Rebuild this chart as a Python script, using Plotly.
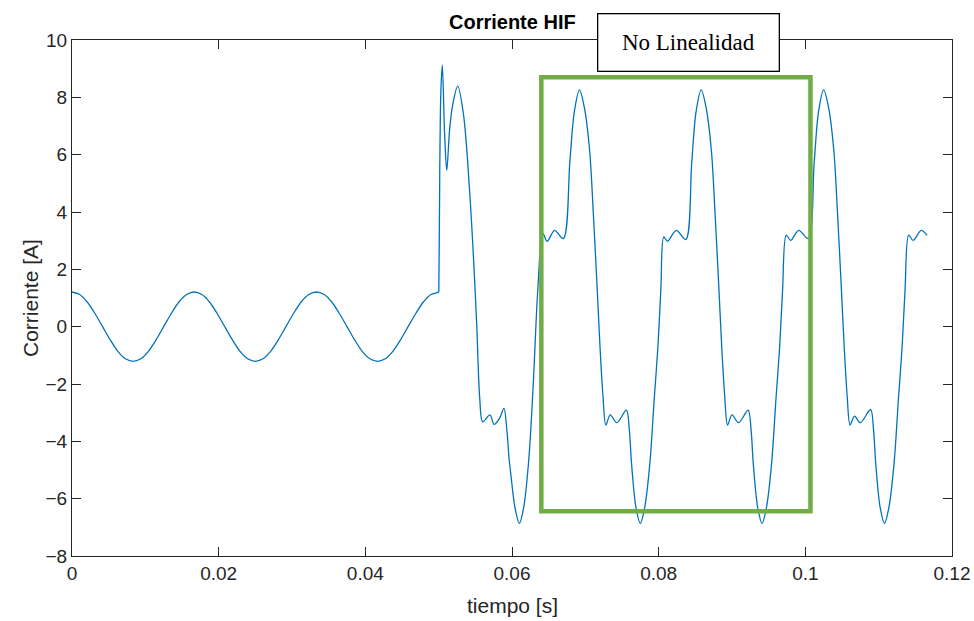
import plotly.graph_objects as go

# ---- data ----
t_sine = [0.0, 0.00104, 0.00208, 0.00313, 0.00417, 0.00521, 0.00625, 0.00729,
          0.00833, 0.00938, 0.01042, 0.01146, 0.0125, 0.01354, 0.01458, 0.01563,
          0.01667, 0.01771, 0.01875, 0.01979, 0.02083, 0.02188, 0.02292, 0.02396,
          0.025, 0.02604, 0.02708, 0.02813, 0.02917, 0.03021, 0.03125, 0.03229,
          0.03333, 0.03438, 0.03542, 0.03646, 0.0375, 0.03854, 0.03958, 0.04063,
          0.04167, 0.04271, 0.04375, 0.04479, 0.04583, 0.04688, 0.04792, 0.04896,
          0.0500]
i_sine = [1.21, 1.12, 0.86, 0.46, 0.0, -0.46, -0.86, -1.12,
          -1.21, -1.12, -0.86, -0.46, 0.0, 0.46, 0.86, 1.12,
          1.21, 1.12, 0.86, 0.46, 0.0, -0.46, -0.86, -1.12,
          -1.21, -1.12, -0.86, -0.46, 0.0, 0.46, 0.86, 1.12,
          1.21, 1.12, 0.86, 0.46, 0.0, -0.46, -0.86, -1.12,
          -1.21, -1.12, -0.86, -0.46, 0.0, 0.46, 0.86, 1.12,
          1.21]

t_fault = [0.05002, 0.05015, 0.0503, 0.0505, 0.0508, 0.0511, 0.0515, 0.0519, 0.0526,
           0.0534, 0.0542, 0.05475, 0.0552, 0.0556, 0.0560, 0.0570, 0.05755,
           0.0583, 0.0589, 0.0593, 0.0596, 0.0599, 0.0604, 0.0610]
i_fault = [1.25, 5.5, 8.2, 9.13, 6.8, 5.45, 6.9, 7.72, 8.39,
           7.37, 4.81, 2.4, 0.0, -2.5, -3.32, -3.08, -3.41,
           -3.2, -2.85, -3.6, -4.6, -5.29, -6.3, -6.86]

t_steady = [0.0616, 0.0623, 0.0629, 0.0635, 0.0642, 0.0648, 0.0658, 0.0670,
            0.0679, 0.0685, 0.0692, 0.0699, 0.0706, 0.0711, 0.0716,
            0.0720, 0.0724, 0.0728, 0.0734, 0.0743, 0.0756, 0.0760, 0.0763,
            0.0769, 0.0775, 0.0781, 0.0788, 0.0794, 0.0799, 0.0803, 0.0807,
            0.0812, 0.0824, 0.0837, 0.0845, 0.0851, 0.0858, 0.0865,
            0.0872, 0.0877, 0.0882, 0.0886, 0.0890, 0.0894, 0.0900, 0.0909,
            0.0922, 0.0926, 0.0929, 0.0935, 0.0941, 0.0947, 0.0954, 0.0960,
            0.0965, 0.0969, 0.0974, 0.0980, 0.0991, 0.1004, 0.1012,
            0.1018, 0.1025, 0.1032, 0.1039, 0.1044, 0.1049, 0.1053, 0.1057,
            0.1061, 0.1067, 0.1075, 0.1089, 0.1093, 0.1096, 0.1102, 0.1108,
            0.1114, 0.1121, 0.1127, 0.1132, 0.1136, 0.1141, 0.1147, 0.1158,
            0.1166]
i_steady = [-6.3, -4.6, -2.0, 1.2, 3.25, 2.98, 3.36, 3.07,
            5.8, 7.5, 8.26, 7.6, 6.1, 3.9, 1.4,
            -0.7, -2.4, -3.43, -3.08, -3.35, -2.91, -3.6, -4.77,
            -6.3, -6.86, -6.3, -4.77, -2.5, -0.7, 1.3, 3.13,
            2.98, 3.36, 3.04, 5.69, 7.5, 8.26, 7.6,
            6.1, 3.9, 1.4, -0.7, -2.4, -3.43, -3.08, -3.35,
            -2.91, -3.6, -4.77, -6.3, -6.86, -6.3, -4.77, -2.5,
            -0.7, 1.3, 3.19, 3.01, 3.36, 3.07, 5.69,
            7.5, 8.26, 7.6, 6.1, 3.9, 1.4, -0.7, -2.4,
            -3.43, -3.12, -3.35, -2.89, -3.6, -4.77, -6.3, -6.86,
            -6.3, -4.77, -2.5, -0.7, 1.3, 3.19, 3.01, 3.36,
            3.19]

x_ticks = [0, 0.02, 0.04, 0.06, 0.08, 0.1, 0.12]
x_tick_labels = ["0", "0.02", "0.04", "0.06", "0.08", "0.1", "0.12"]
y_ticks = [-8, -6, -4, -2, 0, 2, 4, 6, 8, 10]

box_x = [0.0640, 0.1007]
box_y = [-6.44, 8.70]

title_text = "Corriente HIF"
x_label = "tiempo [s]"
y_label = "Corriente [A]"
note_text = "No Linealidad"

t_all = t_sine + t_fault + t_steady
i_all = i_sine + i_fault + i_steady

fig = go.Figure()
fig.add_trace(go.Scatter(
    x=t_all, y=i_all, mode="lines",
    line=dict(color="#0072BD", width=1.3, shape="spline", smoothing=0.9),
    showlegend=False, hoverinfo="skip",
))

axis_common = dict(
    showline=True, linecolor="#262626", linewidth=1, mirror="allticks",
    ticks="inside", ticklen=9, tickwidth=1, tickcolor="#262626",
    showgrid=False, zeroline=False,
    tickfont=dict(family="Liberation Sans, Arial, sans-serif", size=19, color="#262626"),
)

fig.update_xaxes(range=[0, 0.12], tickvals=x_ticks, ticktext=x_tick_labels, **axis_common)
fig.update_yaxes(range=[-8, 10], tickvals=y_ticks, **axis_common)

fig.add_shape(type="rect", xref="x", yref="y",
              x0=box_x[0], x1=box_x[1], y0=box_y[0], y1=box_y[1],
              line=dict(color="#70AD47", width=4.5), fillcolor="rgba(0,0,0,0)",
              layer="above")

fig.add_annotation(
    x=0.0841, y=9.91, xref="x", yref="y", text=note_text, showarrow=False,
    font=dict(family="Liberation Serif, Times New Roman, serif", size=23, color="black"),
    bgcolor="white", bordercolor="black", borderwidth=1.3, borderpad=0,
    width=180, height=56, xanchor="center", yanchor="middle",
)

fig.add_annotation(
    x=0.5, y=1, xref="paper", yref="paper", yshift=18, text="<b>" + title_text + "</b>",
    showarrow=False, xanchor="center", yanchor="middle",
    font=dict(family="Liberation Sans, Arial, sans-serif", size=20, color="black"),
)
fig.add_annotation(
    x=0.5, y=0, xref="paper", yref="paper", yshift=-49, text=x_label,
    showarrow=False, xanchor="center", yanchor="middle",
    font=dict(family="Liberation Sans, Arial, sans-serif", size=21, color="#262626"),
)
fig.add_annotation(
    x=0, y=0.5, xref="paper", yref="paper", xshift=-42, text=y_label, textangle=-90,
    showarrow=False, xanchor="center", yanchor="middle",
    font=dict(family="Liberation Sans, Arial, sans-serif", size=21, color="#262626"),
)

fig.update_layout(
    width=974, height=621,
    margin=dict(l=72, r=22, t=40, b=65, autoexpand=False),
    paper_bgcolor="white", plot_bgcolor="white",
)

fig.write_html("out.html",
               config={"displayModeBar": False},
               post_script="document.body.style.margin='0px';document.body.style.overflow='hidden';")
